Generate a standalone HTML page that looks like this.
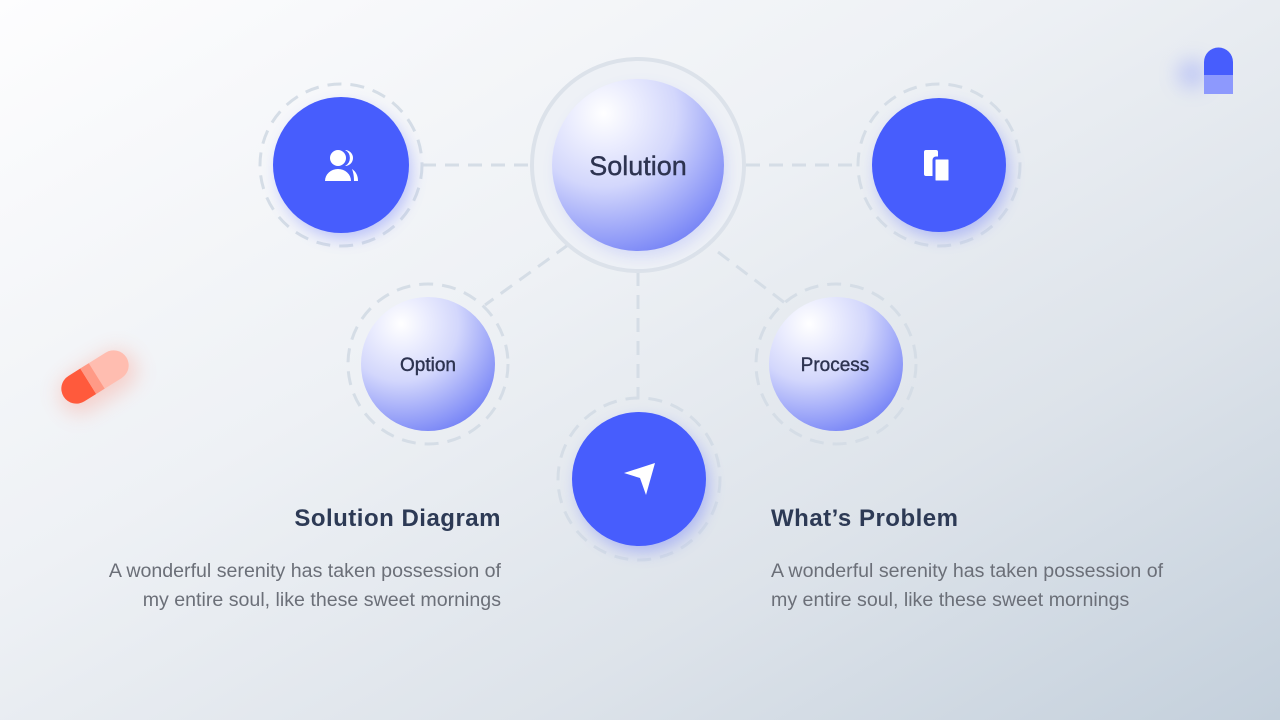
<!DOCTYPE html>
<html><head><style>
body{margin:0;width:1280px;height:720px;overflow:hidden;font-family:"Liberation Sans",sans-serif;background:linear-gradient(150deg,#fdfdfe 0%,#eef1f5 40%,#dde3ea 70%,#c4d0dc 100%);position:relative}
.t{position:absolute;color:#2d3a55;font-size:24px;font-weight:bold;letter-spacing:0.5px}
.p{position:absolute;color:#6b6f78;font-size:19.6px;line-height:29px;white-space:nowrap}
</style></head><body>
<svg width="1280" height="720" style="position:absolute;left:0;top:0">
<defs>
<radialGradient id="g" cx="0.3" cy="0.2" r="0.95">
<stop offset="0" stop-color="#ffffff"/><stop offset="0.45" stop-color="#d3d7fc"/><stop offset="1" stop-color="#6675f5"/>
</radialGradient>
<filter id="b" x="-50%" y="-50%" width="200%" height="200%"><feGaussianBlur stdDeviation="8"/></filter>
<filter id="b2" x="-100%" y="-100%" width="300%" height="300%"><feGaussianBlur stdDeviation="10"/></filter>
</defs>
<g stroke="#d5dde6" stroke-width="3" stroke-dasharray="14 9" fill="none">
<line x1="422" y1="165" x2="530" y2="165"/>
<line x1="746" y1="165" x2="857" y2="165"/>
<line x1="638" y1="272" x2="638" y2="398"/>
<line x1="568" y1="245" x2="485" y2="305"/>
<line x1="718" y1="252" x2="785" y2="303"/>
<circle cx="341" cy="165" r="81"/>
<circle cx="939" cy="165" r="81"/>
<circle cx="428" cy="364" r="80"/>
<circle cx="836" cy="364" r="80"/>
<circle cx="639" cy="479" r="81"/>
</g>
<circle cx="638" cy="165" r="106" fill="#eef1f6" stroke="#dce2ea" stroke-width="4"/>
<g fill="#4a5cff" opacity="0.35" filter="url(#b)">
<circle cx="345" cy="172" r="66"/><circle cx="943" cy="172" r="66"/><circle cx="643" cy="486" r="66"/>
<circle cx="642" cy="172" r="84" opacity="0.5"/>
</g>
<circle cx="341" cy="165" r="68" fill="#475dfd"/>
<circle cx="939" cy="165" r="67" fill="#475dfd"/>
<circle cx="639" cy="479" r="67" fill="#475dfd"/>
<circle cx="638" cy="165" r="86" fill="url(#g)"/>
<circle cx="428" cy="364" r="67" fill="url(#g)"/>
<circle cx="836" cy="364" r="67" fill="url(#g)"/>
<g fill="#fff">
<circle cx="338" cy="158" r="8"/><path d="M325 181 a13 12 0 0 1 26 0 z"/>
<path d="M345 150 a8 8 0 0 1 0 16 a9 9 0 0 0 0 -16z"/><path d="M352 169 q6 4 6 12 h-4 q0-7-2-12z"/>
<rect x="924" y="150" width="14" height="26" rx="2"/><rect x="934" y="158" width="16" height="24" rx="2" stroke="#475dfd" stroke-width="3"/>
<path d="M624 473 L655 463 L646 495 L640 478 Z"/>
</g>
<circle cx="1192" cy="74" r="14" fill="#6a7cff" opacity="0.35" filter="url(#b2)"/>
<path d="M1204 75 v-13 a14.5 14.5 0 0 1 29 0 v13z" fill="#475dfd"/>
<rect x="1204" y="75" width="29" height="19" fill="#8d99fd"/>
<g transform="translate(95,377) rotate(-32)">
<rect x="-42" y="-14" width="84" height="40" rx="20" fill="#ff6a50" opacity="0.25" filter="url(#b2)"/>
<path d="M-8 -15 H22 a15 15 0 0 1 0 30 H-8z" fill="#ffbdb0"/>
<path d="M-8 -15 v30 H-22 a15 15 0 0 1 0 -30z" fill="#ff5a3c"/>
<rect x="-8" y="-15" width="10" height="30" fill="#ff9a86"/>
</g>
<g font-family="Liberation Sans,sans-serif" fill="#2d3350" text-anchor="middle">
<text x="638" y="175" font-size="27" stroke="#2d3350" stroke-width="0.4">Solution</text>
<text x="428" y="371" font-size="19" stroke="#2d3350" stroke-width="0.4">Option</text>
<text x="835" y="371" font-size="19" stroke="#2d3350" stroke-width="0.4">Process</text>
</g>
</svg>
<div class="t" style="right:779px;top:505px">Solution Diagram</div>
<div class="p" style="right:779px;top:557px;text-align:right">A wonderful serenity has taken possession of<br>my entire soul, like these sweet mornings</div>
<div class="t" style="left:771px;top:505px">What’s Problem</div>
<div class="p" style="left:771px;top:557px">A wonderful serenity has taken possession of<br>my entire soul, like these sweet mornings</div>
</body></html>
